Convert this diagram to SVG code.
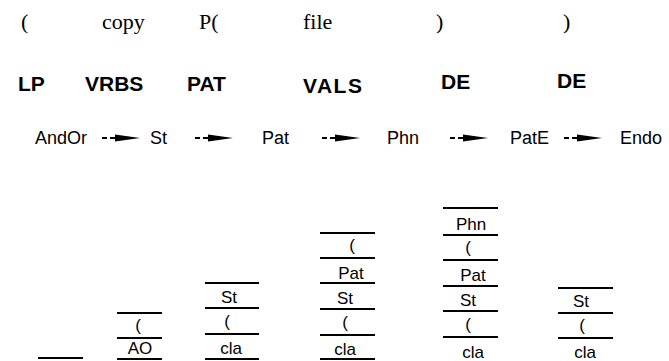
<svg xmlns="http://www.w3.org/2000/svg" width="669" height="361" viewBox="0 0 669 361">
  <style>
    .top { font-family: "Liberation Serif", "Times New Roman", serif; font-size: 22px; fill: #000; }
    .head { font-family: "Liberation Sans", Arial, sans-serif; font-size: 21px; font-weight: bold; fill: #000; }
    .mid { font-family: "Liberation Sans", Arial, sans-serif; font-size: 18px; fill: #000; }
    .cell { font-family: "Liberation Sans", Arial, sans-serif; font-size: 17px; fill: #000; text-anchor: middle; }
    .bar { stroke: #000; stroke-width: 2; fill: none; }
  </style>
  <defs>
    <!-- dashed shaft with a long filled head, drawn along +x, 38px long -->
    <g id="arr">
      <line x1="0" y1="0" x2="5" y2="0" stroke="#000" stroke-width="2"/>
      <line x1="8" y1="0" x2="13" y2="0" stroke="#000" stroke-width="2"/>
      <polygon points="13,-3.5 38,0 13,3.5" fill="#000"/>
    </g>
  </defs>
  <rect width="669" height="361" fill="#fff"/>

  <!-- column 1 -->
  <g id="col-lp">
    <text class="top" x="21" y="29">(</text>
    <text class="head" x="18" y="91">LP</text>
    <text class="mid" x="35" y="144">AndOr</text>
    <line class="bar" x1="38" y1="358" x2="83" y2="358"/>
  </g>

  <!-- column 2 -->
  <g id="col-vrbs">
    <text class="top" x="102" y="29">copy</text>
    <text class="head" x="85" y="91">VRBS</text>
    <text class="mid" x="150" y="144">St</text>
    <line class="bar" x1="117" y1="313" x2="162" y2="313"/>
    <text class="cell" x="138" y="331">(</text>
    <line class="bar" x1="117" y1="338" x2="162" y2="338"/>
    <text class="cell" x="140" y="354">AO</text>
    <line class="bar" x1="117" y1="359" x2="162" y2="359"/>
  </g>

  <!-- column 3 -->
  <g id="col-pat">
    <text class="top" x="199" y="29">P(</text>
    <text class="head" x="187" y="91">PAT</text>
    <text class="mid" x="262" y="144">Pat</text>
    <line class="bar" x1="205" y1="283" x2="259" y2="283"/>
    <text class="cell" x="229" y="303">St</text>
    <line class="bar" x1="205" y1="308" x2="259" y2="308"/>
    <text class="cell" x="227" y="327">(</text>
    <line class="bar" x1="205" y1="334" x2="259" y2="334"/>
    <text class="cell" x="231" y="354">cla</text>
    <line class="bar" x1="205" y1="359" x2="259" y2="359"/>
  </g>

  <!-- column 4 -->
  <g id="col-vals">
    <text class="top" x="303" y="29">file</text>
    <text class="head" x="303" y="93" letter-spacing="1.5">VALS</text>
    <text class="mid" x="387" y="144">Phn</text>
    <line class="bar" x1="320" y1="233" x2="375" y2="233"/>
    <text class="cell" x="352" y="251">(</text>
    <line class="bar" x1="320" y1="258" x2="375" y2="258"/>
    <text class="cell" x="351" y="279">Pat</text>
    <line class="bar" x1="320" y1="283" x2="375" y2="283"/>
    <text class="cell" x="345" y="304">St</text>
    <line class="bar" x1="320" y1="309" x2="375" y2="309"/>
    <text class="cell" x="345" y="328">(</text>
    <line class="bar" x1="320" y1="335" x2="375" y2="335"/>
    <text class="cell" x="345" y="355">cla</text>
    <line class="bar" x1="320" y1="359" x2="375" y2="359"/>
  </g>

  <!-- column 5 -->
  <g id="col-de-1">
    <text class="top" x="436" y="29">)</text>
    <text class="head" x="441" y="89">DE</text>
    <text class="mid" x="510" y="144">PatE</text>
    <line class="bar" x1="443" y1="208" x2="498" y2="208"/>
    <text class="cell" x="471" y="230">Phn</text>
    <line class="bar" x1="443" y1="235" x2="498" y2="235"/>
    <text class="cell" x="468" y="253">(</text>
    <line class="bar" x1="443" y1="260" x2="498" y2="260"/>
    <text class="cell" x="473" y="281">Pat</text>
    <line class="bar" x1="443" y1="286" x2="498" y2="286"/>
    <text class="cell" x="468" y="306">St</text>
    <line class="bar" x1="443" y1="311" x2="498" y2="311"/>
    <text class="cell" x="468" y="330">(</text>
    <line class="bar" x1="443" y1="337" x2="498" y2="337"/>
    <text class="cell" x="473" y="358">cla</text>
  </g>

  <!-- column 6 -->
  <g id="col-de-2">
    <text class="top" x="563" y="29">)</text>
    <text class="head" x="557" y="88">DE</text>
    <text class="mid" x="620" y="144">Endo</text>
    <line class="bar" x1="558" y1="288" x2="613" y2="288"/>
    <text class="cell" x="581" y="307">St</text>
    <line class="bar" x1="558" y1="313" x2="613" y2="313"/>
    <text class="cell" x="582" y="331">(</text>
    <line class="bar" x1="558" y1="338" x2="613" y2="338"/>
    <text class="cell" x="585" y="358">cla</text>
  </g>

  <!-- arrows between the middle-row terms -->
  <g id="connectors">
    <use href="#arr" x="102" y="138"/>
    <use href="#arr" x="195" y="138"/>
    <use href="#arr" x="322" y="138"/>
    <use href="#arr" x="450" y="138"/>
    <use href="#arr" x="564" y="138"/>
  </g>
</svg>
